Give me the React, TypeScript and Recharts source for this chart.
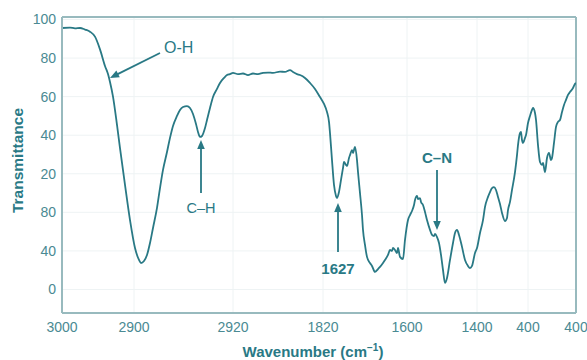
import React from "react";
import {
  LineChart,
  Line,
  XAxis,
  YAxis,
  CartesianGrid,
  ReferenceLine,
} from "recharts";

// x: position along the (non-uniform) wavenumber axis, y: transmittance in axis units
const xPos: number[] = [
  0, 8, 13, 18, 23, 28, 33, 38, 43, 46, 48, 51, 55, 58, 63, 68, 73, 77, 79, 82, 85,
  88, 91, 95, 98, 101, 105, 108, 111, 115, 118, 121, 125, 128, 131, 134, 136,
  138, 140, 143, 145, 148, 151, 155, 158, 162, 165, 168, 171, 176, 181, 186,
  191, 196, 201, 206, 211, 218, 223, 228, 231, 235, 238, 243, 248, 253, 258,
  262, 265, 267, 268, 270, 272, 274, 275, 277, 279, 281, 282, 284, 285, 287,
  288, 290, 291, 293, 295, 296, 298, 300, 301, 303, 305, 308, 310, 313, 316,
  318, 321, 323, 326, 328, 330, 331, 333, 335, 336, 338, 341, 343, 346, 348,
  350, 352, 353, 355, 356, 358, 359, 361, 363, 365, 368, 370, 372, 373, 375,
  377, 379, 381, 383, 385, 388, 391, 393, 395, 397, 400, 403, 406, 408, 410,
  413, 415, 418, 421, 423, 426, 428, 430, 432, 434, 436, 438, 440, 443, 445,
  446, 448, 450, 453, 455, 456, 458, 459, 460, 461, 463, 464, 466, 468, 470,
  471, 473, 474, 476, 478, 480, 481, 483, 485, 487, 489, 490, 492, 494, 496,
  498, 500, 502, 504, 506, 508, 511, 513, 514,
];

const transmittance: number[] = [
  95.6, 95.8, 95.4, 95.6, 94.8, 93.7, 91.1, 84.5, 75.9, 71.7, 67.6, 60.0, 45.3, 33.3,
  14.2, -4.0, -18.5, -24.7, -26.3, -25.2, -22.1, -15.9, -8.1, 2.3, 12.6, 22.0,
  31.3, 38.6, 44.8, 50.0, 53.1, 54.6, 55.1, 54.1, 51.0, 45.8, 41.7, 39.1, 39.6,
  43.7, 47.9, 54.1, 59.8, 64.0, 67.1, 69.7, 71.2, 71.7, 72.3, 71.7, 72.0, 71.2,
  72.0, 71.7, 72.3, 72.5, 72.3, 73.0, 72.8, 73.8, 72.8, 71.7, 71.2, 69.7, 67.1,
  64.0, 59.8, 56.2, 52.0, 46.9, 41.1, 27.1, 14.2, 8.5, 7.4, 10.6, 16.8, 23.0,
  26.1, 24.6, 24.0, 28.2, 29.7, 32.3, 30.8, 33.9, 27.1, 20.9, 10.0, -1.4, -9.1,
  -16.9, -23.1, -26.3, -27.8, -30.9, -29.4, -28.3, -26.3, -24.7, -22.1, -19.5,
  -20.0, -18.5, -19.5, -21.1, -18.5, -23.1, -24.2, -14.3, -4.0, -1.4, 0.7, 3.8,
  6.4, 8.5, 6.9, 7.4, 5.4, 3.8, 0.2, -4.0, -9.1, -11.7, -12.3, -11.2, -12.8,
  -15.9, -22.1, -29.9, -36.6, -34.0, -24.7, -15.9, -10.7, -9.1, -11.7, -17.9,
  -24.7, -27.8, -28.9, -27.8, -21.1, -18.5, -10.7, -4.0, 2.8, 8.0, 10.5, 12.6,
  13.1, 11.6, 8.0, 4.3, -0.3, -4.5, -2.9, 1.2, 5.4, 11.6, 20.9, 29.7, 34.9,
  41.1, 41.7, 37.5, 36.0, 38.6, 40.1, 46.3, 50.0, 53.1, 54.1, 51.5, 47.9, 34.9,
  26.1, 24.6, 25.6, 20.9, 28.2, 30.8, 27.1, 28.2, 36.0, 44.3, 46.9, 47.9, 52.0,
  55.7, 58.3, 60.9, 62.4, 64.5, 66.6, 67.1,
];

const xTicks: number[] = [0, 72, 171, 261, 345, 415, 466, 514];
const xTickLabels: string[] = ["3000", "2900", "2920", "1820", "1600", "1400", "400", "400"];
const yTicks: number[] = [100, 80, 60, 40, 20, 0, -20, -40];
const yTickLabels: string[] = ["100", "80", "60", "40", "20", "80", "40", "0"];

const X_DOMAIN: [number, number] = [0, 514];
const Y_DOMAIN: [number, number] = [-52.2, 101.3];

const annotations: { label: string; from: [number, number]; tip: [number, number]; bold: boolean; size: number; pos: string }[] = [
  { label: "O-H", from: [98, 82.6], tip: [48, 69.7], bold: false, size: 16, pos: "right" },
  { label: "C\u2013H", from: [139, 10.0], tip: [139, 37.5], bold: false, size: 14.5, pos: "below" },
  { label: "1627", from: [276, -20.6], tip: [276, 4.9], bold: true, size: 15, pos: "below" },
  { label: "C\u2013N", from: [375, 22.0], tip: [375, -9.1], bold: true, size: 15, pos: "above" },
];

const data = xPos.map((x, i) => ({ x, y: transmittance[i] }));

const TEAL = "#297985";
const TICK = "#4a8a93";
const AXIS = "#98babe";
const GRID = "#eef3f4";
const FONT = "'Liberation Sans', Arial, Helvetica, sans-serif";

function arrowShape(label: string, bold: boolean, size: number, pos: string) {
  return (props: any) => {
    const { x1, y1, x2, y2 } = props;
    const dx = x2 - x1;
    const dy = y2 - y1;
    const len = Math.sqrt(dx * dx + dy * dy) || 1;
    const ux = dx / len;
    const uy = dy / len;
    const hl = 9;
    const hw = 3.8;
    const bx = x2 - ux * hl;
    const by = y2 - uy * hl;
    const p1 = `${x2},${y2}`;
    const p2 = `${bx - uy * hw},${by + ux * hw}`;
    const p3 = `${bx + uy * hw},${by - ux * hw}`;
    let tx = x1;
    let ty = y1;
    let anchor: "start" | "middle" = "middle";
    if (pos === "right") {
      tx = x1 + 4;
      ty = y1;
      anchor = "start";
    } else if (pos === "below") {
      ty = y1 + (bold ? 22 : 20);
    } else if (pos === "above") {
      ty = y1 - 7;
    }
    return (
      <g>
        <line x1={x1} y1={y1} x2={bx + ux * 1} y2={by + uy * 1} stroke={TEAL} strokeWidth={1.8} />
        <polygon points={`${p1} ${p2} ${p3}`} fill={TEAL} />
        <text
          x={tx}
          y={ty}
          textAnchor={anchor}
          fill={TEAL}
          fontFamily={FONT}
          fontSize={size}
          fontWeight={bold ? 700 : 400}
        >
          {label}
        </text>
      </g>
    );
  };
}

export default function App() {
  return (
    <div style={{ position: "absolute", left: 0, top: 0, width: 587, height: 360, background: "#fff" }}>
      <LineChart
        width={587}
        height={360}
        data={data}
        margin={{ top: 17, right: 11, left: 0, bottom: 0 }}
      >
        <CartesianGrid stroke={GRID} strokeWidth={1} />
        <XAxis
          dataKey="x"
          type="number"
          domain={X_DOMAIN}
          ticks={xTicks}
          interval={0}
          height={47}
          tickFormatter={(v: number) => xTickLabels[xTicks.indexOf(v)] ?? ""}
          tickLine={false}
          tickSize={0}
          tickMargin={9}
          axisLine={{ stroke: AXIS, strokeWidth: 2 }}
          tick={{ fill: TICK, fontSize: 14, fontFamily: FONT }}
          allowDataOverflow
        />
        <YAxis
          type="number"
          domain={Y_DOMAIN}
          ticks={yTicks}
          interval={0}
          width={62}
          tickFormatter={(v: number) => yTickLabels[yTicks.indexOf(v)] ?? ""}
          tickLine={false}
          tickSize={0}
          tickMargin={6}
          axisLine={{ stroke: AXIS, strokeWidth: 2 }}
          tick={{ fill: TICK, fontSize: 14, fontFamily: FONT }}
          allowDataOverflow
        />
        <ReferenceLine y={Y_DOMAIN[1]} stroke={AXIS} strokeWidth={2} />
        <ReferenceLine x={X_DOMAIN[1]} stroke={AXIS} strokeWidth={2} />
        <Line
          type="monotone"
          dataKey="y"
          stroke={TEAL}
          strokeWidth={1.8}
          dot={false}
          activeDot={false}
          isAnimationActive={false}
        />
        {annotations.map((a) => (
          <ReferenceLine
            key={a.label}
            segment={[
              { x: a.from[0], y: a.from[1] },
              { x: a.tip[0], y: a.tip[1] },
            ]}
            stroke={TEAL}
            shape={arrowShape(a.label, a.bold, a.size, a.pos)}
          />
        ))}
      </LineChart>
      <div
        style={{
          position: "absolute",
          left: 16.5 - 100,
          top: 160 - 7.5,
          width: 200,
          height: 15,
          lineHeight: "15px",
          textAlign: "center",
          transform: "rotate(-90deg)",
          fontFamily: FONT,
          fontWeight: 700,
          fontSize: 15.5,
          color: TEAL,
          whiteSpace: "nowrap",
        }}
      >
        Transmittance
      </div>
      <div
        style={{
          position: "absolute",
          left: 313 - 150,
          top: 344,
          width: 300,
          height: 15,
          lineHeight: "15px",
          textAlign: "center",
          fontFamily: FONT,
          fontWeight: 700,
          fontSize: 15,
          color: TEAL,
          whiteSpace: "nowrap",
        }}
      >
        Wavenumber (cm<sup style={{ fontSize: 10, verticalAlign: "6px", lineHeight: 0 }}>{"\u22121"}</sup>)
      </div>
    </div>
  );
}
